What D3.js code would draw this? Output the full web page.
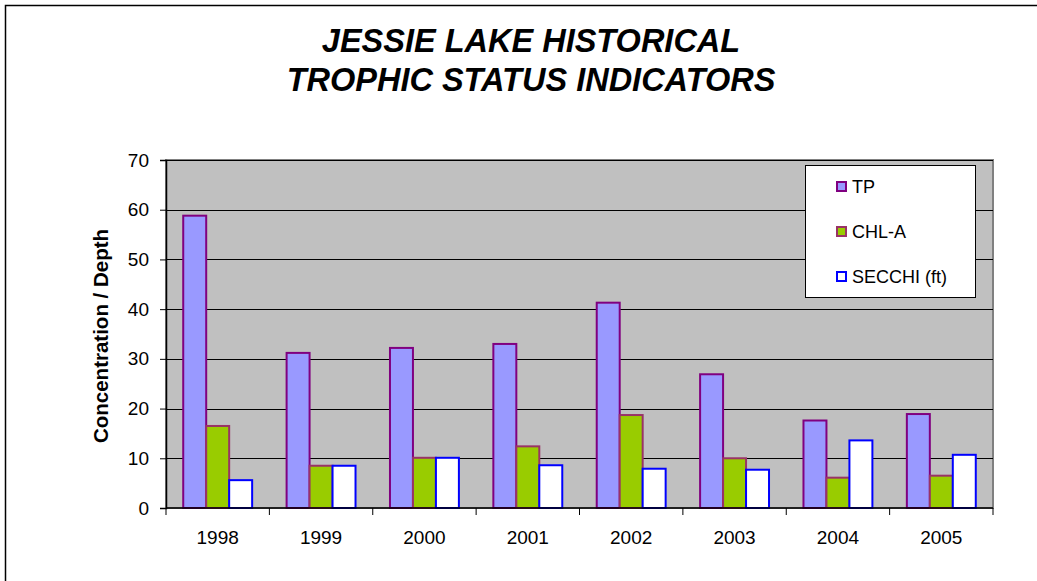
<!DOCTYPE html>
<html>
<head>
<meta charset="utf-8">
<script src="https://cdn.jsdelivr.net/npm/d3@7"></script>
<style>
  html, body { margin: 0; padding: 0; background: #fff; }
  svg { display: block; font-family: Arial, "Liberation Sans", sans-serif; }
</style>
</head>
<body>
<svg id="chart" width="1037" height="581"></svg>
<script>
// Jessie Lake trophic status indicators by year
const years = ["1998", "1999", "2000", "2001", "2002", "2003", "2004", "2005"];
const tp = [58.8, 31.2, 32.2, 33.0, 41.3, 26.9, 17.6, 18.9];
const chla = [16.5, 8.5, 10.1, 12.4, 18.7, 10.0, 6.1, 6.5];
const secchi = [5.6, 8.5, 10.1, 8.6, 7.9, 7.7, 13.6, 10.7];
const seriesNames = ["TP", "CHL-A", "SECCHI (ft)"];
const yTicks = [0, 10, 20, 30, 40, 50, 60, 70];

const series = [
  { name: seriesNames[0], values: tp, fill: "#9999FF", stroke: "#800080" },
  { name: seriesNames[1], values: chla, fill: "#99CC00", stroke: "#993366" },
  { name: seriesNames[2], values: secchi, fill: "#FFFFFF", stroke: "#0000FF" }
];

const svg = d3.select("#chart");

// outer chart frame
svg.append("rect")
  .attr("x", 5.5).attr("y", 5.5)
  .attr("width", 1040).attr("height", 600)
  .attr("fill", "#fff").attr("stroke", "#000").attr("stroke-width", 1.5);

// title
const title = svg.append("text")
  .attr("text-anchor", "middle")
  .attr("font-weight", "bold").attr("font-style", "italic")
  .attr("font-size", 32.5);
title.append("tspan").attr("x", 531).attr("y", 52).text("JESSIE LAKE HISTORICAL");
title.append("tspan").attr("x", 531).attr("y", 91).text("TROPHIC STATUS INDICATORS");

const plot = { left: 166, top: 160, right: 993, bottom: 508 };

const x = d3.scaleBand().domain(years).range([plot.left, plot.right]).paddingInner(0).paddingOuter(0);
const y = d3.scaleLinear().domain([0, 70]).range([plot.bottom, plot.top]);

// bars: gap between groups is 1.5 bar widths
const barW = x.bandwidth() / 4.5;
const xs = d3.scaleBand().domain(seriesNames).range([barW * 0.75, barW * 3.75]).padding(0);

// plot background
svg.append("rect")
  .attr("x", plot.left).attr("y", plot.top)
  .attr("width", plot.right - plot.left).attr("height", plot.bottom - plot.top)
  .attr("fill", "#C0C0C0").attr("stroke", "#808080").attr("stroke-width", 2);

// gridlines
svg.append("g").selectAll("line")
  .data(yTicks.filter(d => d > 0))
  .join("line")
  .attr("x1", plot.left).attr("x2", plot.right)
  .attr("y1", d => Math.round(y(d)) + 0.5).attr("y2", d => Math.round(y(d)) + 0.5)
  .attr("stroke", "#000").attr("stroke-width", 1);

// bars
const groups = svg.append("g").selectAll("g")
  .data(series).join("g");
groups.selectAll("rect")
  .data(s => s.values.map((v, i) => ({ v, year: years[i], s })))
  .join("rect")
  .attr("x", d => x(d.year) + xs(d.s.name))
  .attr("y", d => y(d.v))
  .attr("width", xs.bandwidth())
  .attr("height", d => y(0) - y(d.v))
  .attr("fill", d => d.s.fill)
  .attr("stroke", d => d.s.stroke)
  .attr("stroke-width", 2);

// y axis
const yAxis = d3.axisLeft(y).tickValues(yTicks).tickSize(6).tickPadding(11).tickFormat(d3.format("d"));
const gy = svg.append("g").attr("transform", `translate(${plot.left},0)`).call(yAxis);
gy.select(".domain").attr("stroke", "#000").attr("stroke-width", 1.5);
gy.selectAll(".tick line").attr("stroke", "#000");
gy.selectAll(".tick text").attr("font-size", 19).attr("font-family", "Arial, 'Liberation Sans', sans-serif").attr("fill", "#000");

// x axis with ticks on category boundaries
const gx = svg.append("g").attr("transform", `translate(0,${plot.bottom})`);
gx.append("line").attr("x1", plot.left).attr("x2", plot.right)
  .attr("y1", 0).attr("y2", 0).attr("stroke", "#000").attr("stroke-width", 1.5);
const bounds = years.map(d => x(d)).concat([plot.right]);
gx.selectAll("line.tk").data(bounds).join("line").attr("class", "tk")
  .attr("x1", d => d).attr("x2", d => d).attr("y1", 0).attr("y2", 7)
  .attr("stroke", "#000");
gx.selectAll("text").data(years).join("text")
  .attr("x", d => x(d) + x.bandwidth() / 2)
  .attr("y", 36)
  .attr("text-anchor", "middle")
  .attr("font-size", 19)
  .text(d => d);

// y axis title
svg.append("text")
  .attr("transform", "translate(108,336) rotate(-90)")
  .attr("text-anchor", "middle")
  .attr("font-weight", "bold")
  .attr("font-size", 20.5)
  .text("Concentration / Depth");

// legend
const lg = svg.append("g").attr("transform", "translate(805,165)");
lg.append("rect").attr("x", 0.5).attr("y", 0.5).attr("width", 170).attr("height", 132)
  .attr("fill", "#fff").attr("stroke", "#000").attr("stroke-width", 1);
const items = lg.selectAll("g.item").data(series).join("g").attr("class", "item")
  .attr("transform", (d, i) => `translate(0,${21 + i * 45})`);
items.append("rect")
  .attr("x", 32).attr("y", -4).attr("width", 9).attr("height", 9)
  .attr("fill", d => d.fill).attr("stroke", d => d.stroke).attr("stroke-width", 2);
items.append("text")
  .attr("x", 47).attr("y", 6.5)
  .attr("font-size", 18)
  .text(d => d.name);
</script>
</body>
</html>
